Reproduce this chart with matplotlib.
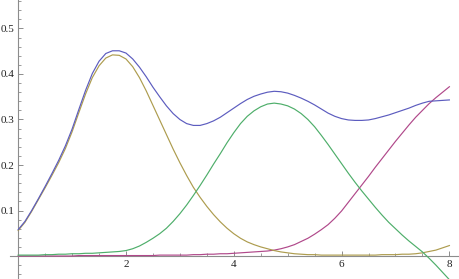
import numpy as np
import matplotlib
matplotlib.use("Agg")
import matplotlib.pyplot as plt
from matplotlib.ticker import MultipleLocator, FixedLocator

x = [0.0, 0.125, 0.25, 0.375, 0.5, 0.625, 0.75, 0.875, 1.0, 1.125, 1.25, 1.375,
     1.5, 1.625, 1.75, 1.875, 2.0, 2.125, 2.25, 2.375, 2.5, 2.625, 2.75, 2.875,
     3.0, 3.125, 3.25, 3.375, 3.5, 3.625, 3.75, 3.875, 4.0, 4.125, 4.25, 4.375,
     4.5, 4.625, 4.75, 4.875, 5.0, 5.125, 5.25, 5.375, 5.5, 5.625, 5.75, 5.875,
     6.0, 6.125, 6.25, 6.375, 6.5, 6.625, 6.75, 6.875, 7.0, 7.125, 7.25, 7.375,
     7.5, 7.625, 7.75, 7.875, 8.0]

total = [0.058, 0.076, 0.100, 0.126, 0.153, 0.181, 0.210, 0.242, 0.279, 0.322,
         0.364, 0.401, 0.428, 0.445, 0.451, 0.451, 0.446, 0.433, 0.415, 0.394,
         0.371, 0.350, 0.330, 0.313, 0.300, 0.291, 0.287, 0.287, 0.291, 0.297,
         0.305, 0.315, 0.325, 0.335, 0.344, 0.351, 0.356, 0.360, 0.362, 0.361,
         0.358, 0.353, 0.347, 0.340, 0.332, 0.323, 0.314, 0.307, 0.302, 0.299,
         0.298, 0.298, 0.299, 0.302, 0.306, 0.310, 0.315, 0.320, 0.325, 0.331,
         0.336, 0.340, 0.341, 0.342, 0.343]

comp_a = [0.056, 0.074, 0.098, 0.124, 0.150, 0.177, 0.205, 0.236, 0.273, 0.315,
          0.356, 0.392, 0.418, 0.435, 0.442, 0.441, 0.433, 0.416, 0.392, 0.363,
          0.331, 0.299, 0.267, 0.235, 0.205, 0.177, 0.151, 0.129, 0.109, 0.091,
          0.075, 0.061, 0.049, 0.039, 0.031, 0.025, 0.020, 0.016, 0.012, 0.009,
          0.007, 0.005, 0.004, 0.003, 0.003, 0.002, 0.002, 0.002, 0.002, 0.002,
          0.002, 0.002, 0.002, 0.002, 0.003, 0.003, 0.003, 0.004, 0.004, 0.005,
          0.007, 0.010, 0.013, 0.018, 0.023]

comp_b = [0.002, 0.002, 0.002, 0.002, 0.003, 0.003, 0.004, 0.004, 0.005, 0.005,
          0.006, 0.006, 0.007, 0.008, 0.009, 0.010, 0.012, 0.016, 0.022, 0.030,
          0.039, 0.049, 0.061, 0.076, 0.093, 0.112, 0.133, 0.155, 0.178, 0.202,
          0.225, 0.249, 0.271, 0.291, 0.307, 0.319, 0.328, 0.334, 0.336, 0.334,
          0.330, 0.323, 0.313, 0.300, 0.284, 0.265, 0.245, 0.224, 0.203, 0.182,
          0.162, 0.143, 0.125, 0.107, 0.090, 0.074, 0.060, 0.046, 0.033, 0.021,
          0.009, -0.005, -0.020, -0.036, -0.052]

comp_c = [0.000, 0.000, 0.000, 0.000, 0.000, 0.000, 0.000, 0.000, 0.000, 0.001,
          0.001, 0.001, 0.001, 0.001, 0.001, 0.001, 0.001, 0.001, 0.001, 0.001,
          0.001, 0.002, 0.002, 0.002, 0.002, 0.002, 0.003, 0.003, 0.004, 0.004,
          0.005, 0.005, 0.006, 0.007, 0.008, 0.009, 0.010, 0.011, 0.013, 0.016,
          0.020, 0.025, 0.032, 0.039, 0.048, 0.058, 0.069, 0.083, 0.099, 0.118,
          0.137, 0.156, 0.175, 0.195, 0.214, 0.233, 0.252, 0.270, 0.288, 0.305,
          0.320, 0.335, 0.348, 0.360, 0.372]

x_ticks = [2, 4, 6, 8]
x_tick_labels = ["2", "4", "6", "8"]
y_ticks = [0.1, 0.2, 0.3, 0.4, 0.5]
y_tick_labels = ["0.1", "0.2", "0.3", "0.4", "0.5"]

W, H, DPI = 460, 279, 100
fig = plt.figure(figsize=(W / DPI, H / DPI), dpi=DPI)
ax = fig.add_axes([10 / W, 0, 450 / W, 1])
ax.set_xlim(-0.152, 8.197)
ax.set_ylim(-0.0505, 0.5626)

c_blue = "#5c5cbf"
c_mag = "#b0488a"
c_gold = "#ad9c4e"
c_green = "#4eae6a"

lw = 0.85
ax.plot(x, comp_c, color=c_mag, lw=lw, zorder=3)
ax.plot(x, comp_a, color=c_gold, lw=lw, zorder=3)
ax.plot(x, comp_b, color=c_green, lw=lw, zorder=3)
ax.plot(x, total, color=c_blue, lw=lw, zorder=4)

for s in ["top", "right"]:
    ax.spines[s].set_visible(False)
ax.spines["left"].set_position(("data", 0))
ax.spines["bottom"].set_position(("data", 0))
axis_col = (0.55, 0.55, 0.55)
for s in ["left", "bottom"]:
    ax.spines[s].set_color(axis_col)
    ax.spines[s].set_linewidth(0.8)
    ax.spines[s].set_zorder(2)

ax.xaxis.set_major_locator(FixedLocator(x_ticks))
ax.set_xticklabels(x_tick_labels)
ax.xaxis.set_minor_locator(MultipleLocator(0.5))
ax.yaxis.set_major_locator(FixedLocator(y_ticks))
ax.set_yticklabels(y_tick_labels)
ax.yaxis.set_minor_locator(MultipleLocator(0.02))

ax.tick_params(axis="both", which="major", direction="in", length=3.5,
               width=0.7, color=axis_col, labelsize=8, labelcolor="#222222")
ax.tick_params(axis="both", which="minor", direction="in", length=2,
               width=0.6, color=axis_col)
ax.tick_params(axis="x", which="major", pad=3)
ax.tick_params(axis="y", which="major", pad=3)
for lab in ax.get_xticklabels() + ax.get_yticklabels():
    lab.set_fontfamily("Liberation Serif")

ax.patch.set_alpha(0)
fig.savefig("out.png", dpi=DPI)
